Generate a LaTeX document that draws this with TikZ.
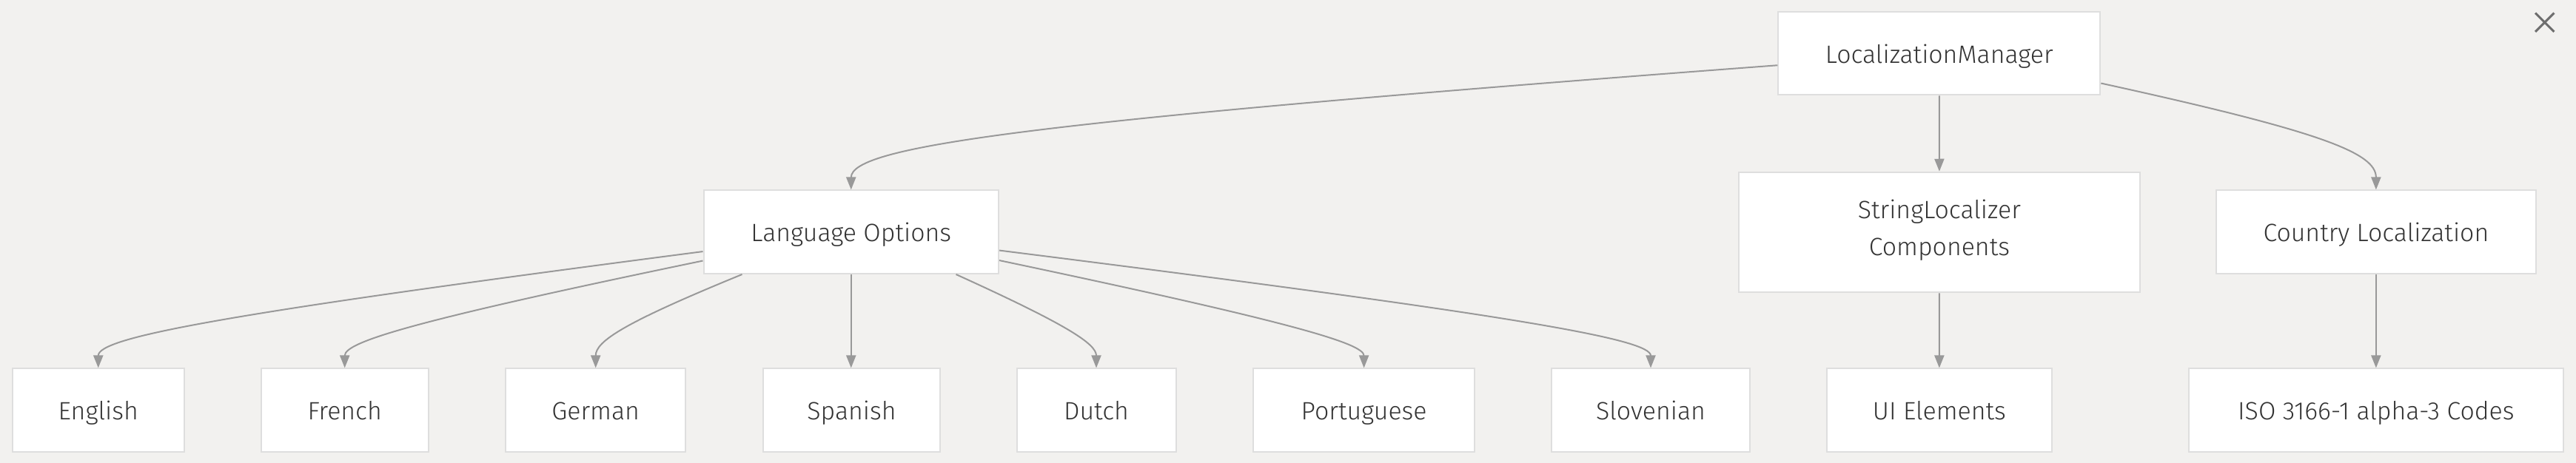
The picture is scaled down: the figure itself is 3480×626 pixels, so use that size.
\documentclass[tikz,border=0pt]{standalone}
\usepackage{fontspec}
\setmainfont{Fira Sans}[UprightFont={* Light}]
\usetikzlibrary{arrows.meta,calc}
\definecolor{bgc}{RGB}{242,241,239}
\definecolor{boxline}{RGB}{222,222,222}
\definecolor{edgec}{RGB}{153,153,153}
\definecolor{txt}{RGB}{51,51,51}
\definecolor{xcol}{RGB}{110,110,110}
\newcommand\linestrut{\rule[-12bp]{0pt}{50bp}}
\tikzset{
  box/.style={draw=boxline, line width=2bp, fill=white, rectangle, inner sep=0pt,
    minimum height=112.5bp, text=txt, align=center,
    font=\fontsize{34}{50}\selectfont, execute at begin node={\linestrut}},
  edge/.style={draw=edgec, line width=2bp, -{Triangle[length=17bp,width=13bp]}},
}
\newcommand\curvedge[3]{%
  \draw[edge] (#1) .. controls ($(#1)!0.8!(#2.north |- 0,#3)$) and ($(#2.north)!0.8!(#2.north |- 0,#3)$) .. (#2.north);}
\begin{document}
\begin{tikzpicture}[x=1bp,y=-1bp]
\fill[bgc] (0,0) rectangle (3480,626);
\useasboundingbox (0,0) rectangle (3480,626);
% nodes
\node[box, minimum width=435bp] (lm) at (2619.8,72.25) {LocalizationManager};
\node[box, minimum width=398.5bp] (lo) at (1149.75,313.75) {Language Options};
\node[box, minimum width=541.8bp, minimum height=162.5bp] (slc) at (2619.9,314) {StringLocalizer\\\linestrut Components};
\node[box, minimum width=432bp] (cl) at (3209.85,313.75) {Country Localization};
\node[box, minimum width=232bp] (en) at (132.75,554.7) {English};
\node[box, minimum width=226bp] (fr) at (465.7,554.7) {French};
\node[box, minimum width=242.6bp] (de) at (804.7,554.7) {German};
\node[box, minimum width=239.4bp] (es) at (1150.5,554.7) {Spanish};
\node[box, minimum width=215bp] (nl) at (1481,554.7) {Dutch};
\node[box, minimum width=298.4bp] (pt) at (1842.6,554.7) {Portuguese};
\node[box, minimum width=268bp] (sl) at (2230,554.7) {Slovenian};
\node[box, minimum width=304bp] (ui) at (2619.85,554.7) {UI Elements};
\node[box, minimum width=505.7bp] (iso) at (3209.85,554.7) {ISO 3166-1 alpha-3 Codes};
% start points
\coordinate (s-lo) at ($(lm.west)+(0,16)$);
\coordinate (s-cl) at ($(lm.east)+(0,40.3)$);
\coordinate (s-en) at ($(lo.west)+(0,26.3)$);
\coordinate (s-fr) at ($(lo.west)+(0,38.8)$);
\coordinate (s-de) at ($(lo.south)+(-147.3,0)$);
\coordinate (s-nl) at ($(lo.south)+(141.8,0)$);
\coordinate (s-pt) at ($(lo.east)+(0,38.3)$);
\coordinate (s-sl) at ($(lo.east)+(0,24.8)$);
% edges
\curvedge{s-lo}{lo}{182}
\draw[edge] (lm.south) -- (slc.north);
\curvedge{s-cl}{cl}{194}
\draw[edge] (slc.south) -- (ui.north);
\draw[edge] (cl.south) -- (iso.north);
\curvedge{s-en}{en}{446}
\curvedge{s-fr}{fr}{453}
\curvedge{s-de}{de}{452}
\draw[edge] (lo.south) -- (lo.south |- es.north);
\curvedge{s-nl}{nl}{457}
\curvedge{s-pt}{pt}{456}
\curvedge{s-sl}{sl}{449}
% close icon
\draw[xcol, line width=3bp] (3425,17.5) -- (3450.4,43) (3425,43) -- (3450.4,17.5);
\end{tikzpicture}
\end{document}
